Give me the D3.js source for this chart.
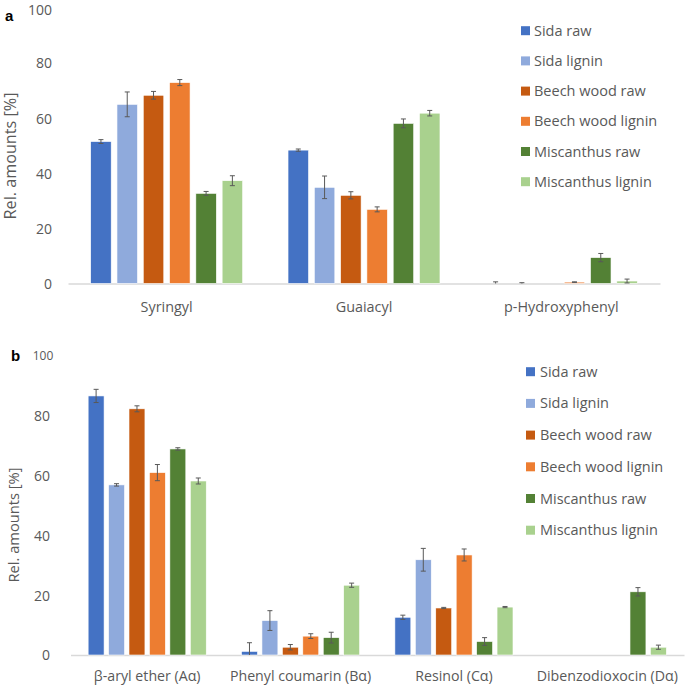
<!DOCTYPE html>
<html>
<head>
<meta charset="utf-8">
<script src="https://cdn.jsdelivr.net/npm/d3@7"></script>
<style>
  html, body { margin: 0; padding: 0; background: #fff; }
  svg { display: block; font-family: "Open Sans", sans-serif; }
</style>
</head>
<body>
<svg id="chart" width="685" height="687"></svg>
<script>
const seriesNames = ["Sida raw", "Sida lignin", "Beech wood raw", "Beech wood lignin", "Miscanthus raw", "Miscanthus lignin"];
const seriesColors = ["#4472C4", "#8FAADC", "#C55A11", "#ED7D31", "#538135", "#A9D18E"];

// Panel a
const categoriesA = ["Syringyl", "Guaiacyl", "p-Hydroxyphenyl"];
const valuesA = [
  [51.5, 48.4, 0],
  [65.0, 34.9, 0],
  [68.3, 32.0, 0],
  [72.9, 26.9, 0.5],
  [32.7, 58.1, 9.4],
  [37.3, 61.8, 0.9]
];
const errorsA = [
  [0.7, 0.4, 0.6],
  [4.5, 4.1, 0.3],
  [1.4, 1.3, 0],
  [1.1, 0.9, 0.1],
  [0.7, 1.6, 1.5],
  [1.8, 1.0, 0.7]
];
const ticksA = [0, 20, 40, 60, 80, 100];

// Panel b
const categoriesB = ["β-aryl ether (Aα)", "Phenyl coumarin (Bα)", "Resinol (Cα)", "Dibenzodioxocin (Dα)"];
const valuesB = [
  [86.5, 1.2, 12.6, 0],
  [56.8, 11.5, 31.8, 0],
  [82.2, 2.6, 15.7, 0],
  [60.9, 6.3, 33.4, 0],
  [68.8, 5.8, 4.5, 21.1],
  [58.1, 23.3, 16.0, 2.6]
];
const errorsB = [
  [2.2, 2.9, 0.7, 0],
  [0.4, 3.3, 3.8, 0],
  [1.0, 0.9, 0.2, 0],
  [2.7, 0.8, 2.0, 0],
  [0.4, 1.8, 1.3, 1.4],
  [1.0, 0.7, 0.2, 0.7]
];
const ticksB = [0, 20, 40, 60, 80, 100];

const textColor = "#595959";
const svg = d3.select("#chart");

function drawPanel(cfg) {
  const g = svg.append("g");
  const y = d3.scaleLinear().domain([0, 100]).range([cfg.y0, cfg.y100]);
  const x0 = d3.scaleBand().domain(cfg.categories).range([cfg.xl, cfg.xr]).padding(0);
  const groupW = x0.bandwidth() * 0.77;
  const x1 = d3.scaleBand().domain(seriesNames).range([0, groupW]).paddingInner(0.22).paddingOuter(0);
  const inset = (x0.bandwidth() - groupW) / 2;

  // axis baseline
  const xAxis = d3.axisBottom(x0).tickSize(0).tickPadding(0);
  const ax = g.append("g").attr("transform", `translate(0,${y(0)})`).call(xAxis);
  ax.select(".domain").attr("stroke", "#d9d9d9").attr("stroke-width", 1.3);
  ax.selectAll(".tick text")
    .attr("y", cfg.catDy)
    .attr("dy", 0)
    .attr("fill", textColor)
    .attr("font-size", cfg.catSize)
    .attr("font-family", "'Open Sans', sans-serif");

  // y tick labels
  const yAxis = d3.axisLeft(y).tickValues(cfg.ticks).tickSize(0).tickPadding(0);
  const ay = g.append("g").attr("transform", `translate(${cfg.tickRight},0)`).call(yAxis);
  ay.select(".domain").remove();
  ay.selectAll(".tick text")
    .attr("x", 0)
    .attr("fill", textColor)
    .attr("font-size", d => (d === 100 ? cfg.topTickSize : cfg.tickSize))
    .attr("font-family", "'Open Sans', sans-serif")
    .attr("dy", d => (d === 100 ? cfg.topTickDy : "0.35em"));
  if (cfg.topTickCenter) {
    ay.selectAll(".tick text").filter(d => d === 100)
      .attr("text-anchor", "middle").attr("x", cfg.topTickCenter - cfg.tickRight);
  }

  // bars
  seriesNames.forEach((s, si) => {
    const sg = g.append("g");
    cfg.categories.forEach((c, ci) => {
      const v = cfg.values[si][ci];
      const e = cfg.errors[si][ci];
      const bx = x0(c) + inset + x1(s);
      const bw = x1.bandwidth();
      if (v > 0) {
        sg.append("rect")
          .attr("x", bx).attr("y", y(v))
          .attr("width", bw).attr("height", y(0) - y(v))
          .attr("fill", seriesColors[si])
          .attr("stroke", "#ffffff").attr("stroke-width", 0.6);
      }
      if (e > 0) {
        const cx = bx + bw / 2;
        const hi = v + e, lo = Math.max(0, v - e);
        const cap = 2.5;
        sg.append("line").attr("x1", cx).attr("x2", cx).attr("y1", y(hi)).attr("y2", y(lo))
          .attr("stroke", "#595959").attr("stroke-width", 1);
        sg.append("line").attr("x1", cx - cap).attr("x2", cx + cap).attr("y1", y(hi)).attr("y2", y(hi))
          .attr("stroke", "#595959").attr("stroke-width", 1);
        if (v - e >= 0) {
          sg.append("line").attr("x1", cx - cap).attr("x2", cx + cap).attr("y1", y(lo)).attr("y2", y(lo))
            .attr("stroke", "#595959").attr("stroke-width", 1);
        }
      }
    });
  });

  // y axis title
  g.append("text")
    .attr("transform", `translate(${cfg.titleX},${cfg.titleY}) rotate(-90)`)
    .attr("text-anchor", "middle")
    .attr("fill", textColor)
    .attr("font-size", cfg.titleSize)
    .text("Rel. amounts [%]");

  // panel letter
  g.append("text")
    .attr("x", cfg.letterX).attr("y", cfg.letterY)
    .attr("font-weight", "bold").attr("font-size", 15)
    .attr("font-family", "'Liberation Sans', Arial, sans-serif")
    .attr("fill", "#000")
    .text(cfg.letter);

  // legend
  const lg = g.append("g");
  seriesNames.forEach((s, i) => {
    const cy = cfg.legY + i * cfg.legStep;
    lg.append("rect").attr("x", cfg.legX).attr("y", cy - 4.5).attr("width", 9).attr("height", 9)
      .attr("fill", seriesColors[i]);
    lg.append("text").attr("x", cfg.legX + cfg.legTextGap).attr("y", cy).attr("dy", "0.35em")
      .attr("fill", textColor).attr("font-size", cfg.legSize).text(s);
  });
}

drawPanel({
  categories: categoriesA, values: valuesA, errors: errorsA, ticks: ticksA,
  xl: 68, xr: 660, y0: 283.5, y100: 7.9,
  tickRight: 52, tickSize: 14, topTickSize: 14, topTickDy: "0.45em",
  catDy: 28, catSize: 14.4,
  titleX: 16, titleY: 156, titleSize: 16.2,
  letter: "a", letterX: 5, letterY: 21,
  legX: 521, legY: 30.7, legStep: 30.2, legTextGap: 13, legSize: 14.5
});

drawPanel({
  categories: categoriesB, values: valuesB, errors: errorsB, ticks: ticksB,
  xl: 70.5, xr: 684, y0: 655, y100: 355.5,
  tickRight: 50, tickSize: 14, topTickSize: 12, topTickDy: "0.35em", topTickCenter: 43,
  catDy: 25.5, catSize: 14.2,
  titleX: 18.5, titleY: 525, titleSize: 14.7,
  letter: "b", letterX: 11, letterY: 361,
  legX: 526, legY: 371.7, legStep: 31.7, legTextGap: 14, legSize: 14.5
});
</script>
</body>
</html>
